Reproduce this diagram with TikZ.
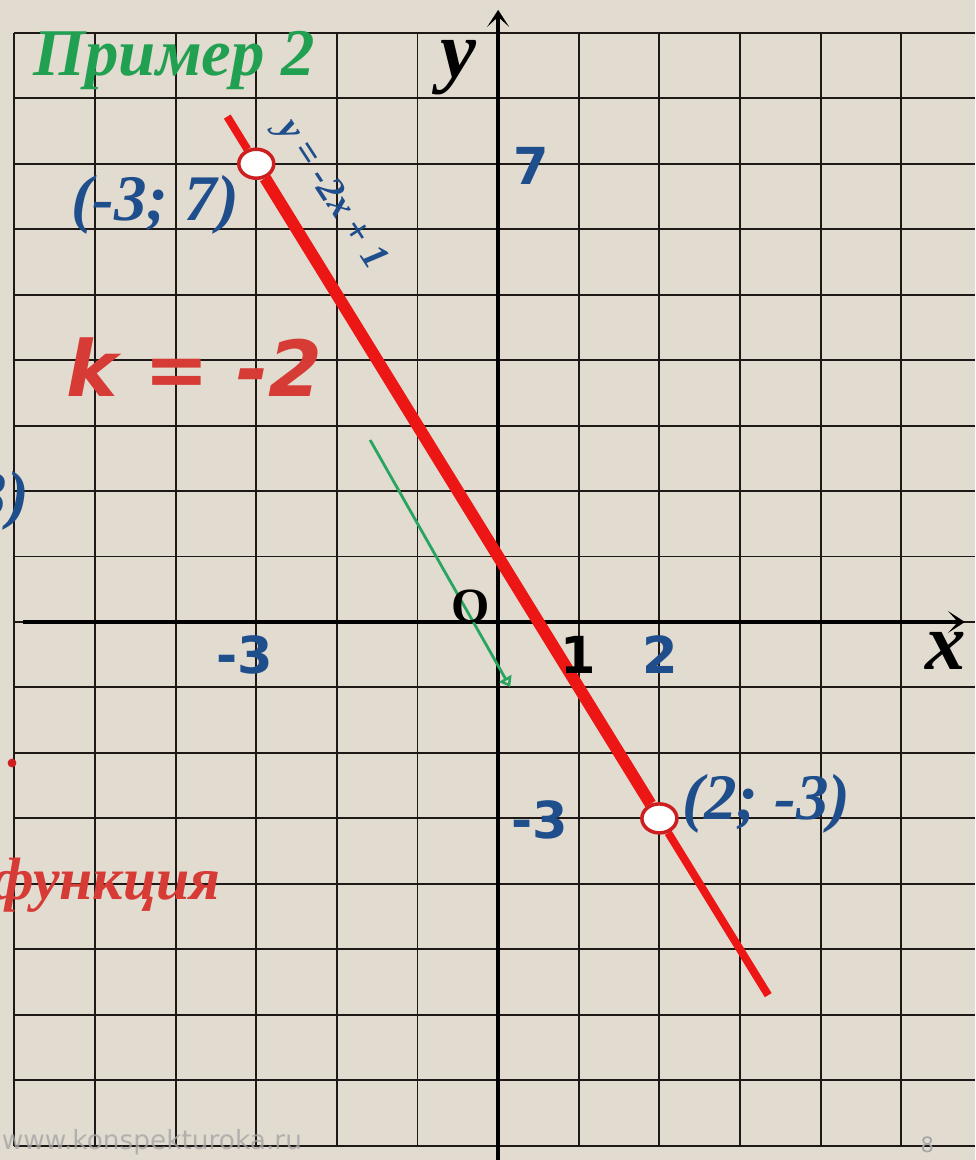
\documentclass[tikz,border=0pt]{standalone}
\usepackage{fontspec}
\setmainfont{Liberation Serif}
\newfontfamily\numfont{DejaVu Sans}
\usetikzlibrary{arrows.meta,shapes.geometric}
\definecolor{paper}{RGB}{226,219,207}
\definecolor{gridink}{RGB}{30,25,22}
\definecolor{lineRed}{RGB}{236,22,20}
\definecolor{ptred}{RGB}{205,30,32}
\definecolor{txtRed}{RGB}{214,59,53}
\definecolor{txtBlue}{RGB}{31,78,140}
\definecolor{txtGreen}{RGB}{34,160,82}
\definecolor{arrGreen}{RGB}{40,165,95}

\begin{document}
\begin{tikzpicture}[x=1.612cm, y=1.309cm,
    gridline/.style={gridink, line width=1.1pt},
    axisline/.style={black, line width=2.2pt, -{Stealth[length=0.34cm, width=0.44cm, inset=0.2cm]}},
    redthick/.style={lineRed, line width=6.8pt},
    redthin/.style={lineRed, line width=4.5pt},
    ptmark/.style={ellipse, draw=ptred, fill=white, line width=2pt,
        minimum width=0.7cm, minimum height=0.58cm, inner sep=0pt},
    numlabel/.style={font=\numfont\bfseries\fontsize{29}{29}\selectfont},
    axlabel/.style={font=\bfseries\itshape\fontsize{46}{46}\selectfont},
    coordtext/.style={txtBlue, font=\bfseries\itshape\fontsize{37}{37}\selectfont},
    eqtext/.style={txtBlue, font=\bfseries\itshape\fontsize{22}{22}\selectfont},
    titletext/.style={txtGreen, font=\bfseries\itshape\fontsize{38}{38}\selectfont}]

    % Paper
    \useasboundingbox (-6.179,-8.218) rectangle (5.918,9.501);
    \fill[paper] (-6.179,-8.218) rectangle (5.918,9.501);
    \clip (-6.179,-8.218) rectangle (5.918,9.501);

    % Grid
    \foreach \i in {-6,...,5} {
        \draw[gridline] (\i,-8) -- (\i,9);
    }
    \foreach \j in {-8,...,9} {
        \draw[gridline] (-6,\j) -- (5.918,\j);
    }

    % Axes
    \coordinate (xl) at (-5.89,0);
    \coordinate (xr) at (5.79,0);
    \coordinate (yb) at (0,-8.3);
    \coordinate (yt) at (0,9.35);
    \draw[axisline] (xl) -- (xr);
    \draw[axisline] (yb) -- (yt);

    % Parallel direction y = -2x
    \coordinate (gs) at (-1.588,2.78);
    \coordinate (ge) at (0.149,-0.993);
    \draw[arrGreen, line width=1.6pt, -{Triangle[open, length=0.2cm, width=0.28cm]}] (gs) -- (ge);

    % Graph y = -2x + 1
    \coordinate (lt) at (-3.36,7.72);
    \coordinate (lb) at (3.35,-5.7);
    \node[ptmark] (pA) at (-3,7) {};
    \node[ptmark] (pB) at (2,-3) {};
    \draw[redthin] (lt) -- (pA);
    \draw[redthick] (pA) -- (pB);
    \draw[redthin] (pB) -- (lb);

    % Labels
    \node[titletext, anchor=base west] (ttl) at (-5.84,8.355) {Пример 2};
    \node[axlabel, anchor=base] (ylab) at (-0.496,8.31) {y};
    \node[axlabel] (xlab) at (5.546,-0.443) {x};
    \node[font=\bfseries\fontsize{28}{28}\selectfont] (orig) at (-0.335,0.244) {O};
    \node[numlabel, txtBlue] (n7) at (0.409,6.965) {7};
    \node[numlabel, txtBlue] (nxm3) at (-3.14,-0.504) {-3};
    \node[numlabel] (n1) at (0.993,-0.504) {1};
    \node[numlabel, txtBlue] (n2) at (2.01,-0.504) {2};
    \node[numlabel, txtBlue] (nym3) at (0.521,-3.024) {-3};
    \node[coordtext] (lA) at (-4.256,6.37) {(-3; 7)};
    \node[coordtext] (lB) at (3.33,-2.78) {(2; -3)};
    \node[eqtext, rotate=-57] (eq) at (-2.08,6.52) {y = -2x + 1};
    \node[txtRed, font=\numfont\bfseries\itshape\fontsize{44}{44}\selectfont] (kval) at (-3.77,3.895) {k = -2};

    % Cut-off parts at the left edge
    \node[coordtext, anchor=base east] (cutB) at (-5.74,1.619) {(2; -3)};
    \node[txtRed, font=\bfseries\itshape\fontsize{34}{34}\selectfont, anchor=base east] (fn) at (-3.37,-4.246) {функция};
    \fill[ptred] (-6.03,-2.154) circle (2.5pt);

    % Footer
    \node[gray!70, opacity=0.8, font=\numfont\fontsize{15}{15}\selectfont, anchor=base east] (www) at (-2.357,-8.065) {www.konspekturoka.ru};
    \node[gray!70, font=\numfont\fontsize{12}{12}\selectfont] (pg) at (5.323,-7.99) {8};
\end{tikzpicture}
\end{document}
